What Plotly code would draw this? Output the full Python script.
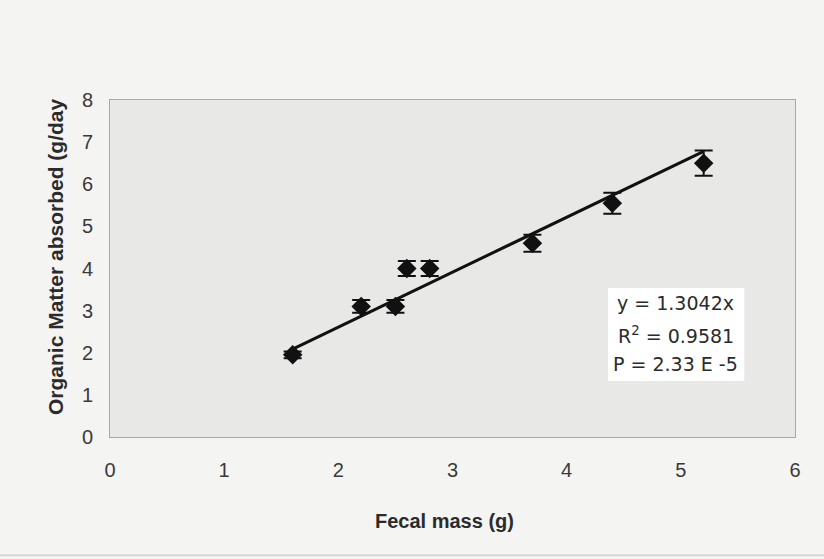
import plotly.graph_objects as go

fecal_mass = [1.6, 2.2, 2.5, 2.6, 2.8, 3.7, 4.4, 5.2]
om_absorbed = [1.95, 3.1, 3.1, 4.0, 4.0, 4.6, 5.55, 6.5]
om_error = [0.08, 0.15, 0.15, 0.18, 0.18, 0.2, 0.25, 0.3]
slope = 1.3042
fit_x = [1.6, 5.2]
x_ticks = [0, 1, 2, 3, 4, 5, 6]
y_ticks = [0, 1, 2, 3, 4, 5, 6, 7, 8]
stats_lines = ["y = 1.3042x", "R<sup>2</sup> = 0.9581", "P = 2.33 E -5"]

fit_y = [slope * v for v in fit_x]

FONT = "Liberation Sans, Arial, sans-serif"
TXT = "#2b2b2b"

fig = go.Figure()
fig.add_trace(go.Scatter(
    x=fit_x, y=fit_y, mode="lines",
    line=dict(color="#111111", width=3), showlegend=False, hoverinfo="skip"))
fig.add_trace(go.Scatter(
    x=fecal_mass, y=om_absorbed, mode="markers",
    marker=dict(symbol="diamond", size=15, color="#111111"),
    error_y=dict(type="data", array=om_error, visible=True,
                 color="#111111", thickness=2, width=9),
    showlegend=False))

# white box behind regression statistics
fig.add_shape(type="rect", xref="paper", yref="paper",
              x0=0.727, x1=0.926, y0=0.166, y1=0.442,
              fillcolor="#ffffff", line_width=0, layer="below")
for line_text, yp in zip(stats_lines, [0.398, 0.303, 0.218]):
    fig.add_annotation(
        x=0.826, y=yp, xref="paper", yref="paper", text=line_text,
        showarrow=False, align="center", xanchor="center", yanchor="middle",
        font=dict(family="DejaVu Sans, sans-serif", size=19, color=TXT))

# axis titles
fig.add_annotation(
    x=-0.0803, y=0.537, xref="paper", yref="paper",
    text="<b>Organic Matter absorbed (g/day</b>", textangle=-90,
    showarrow=False, xanchor="center", yanchor="middle",
    font=dict(family=FONT, size=21, color=TXT))
fig.add_annotation(
    x=0.489, y=-0.249, xref="paper", yref="paper",
    text="<b>Fecal mass (g)</b>",
    showarrow=False, xanchor="center", yanchor="middle",
    font=dict(family=FONT, size=20, color=TXT))

# faint edge line at bottom of scan
fig.add_shape(type="line", xref="paper", yref="paper",
              x0=-0.2, x1=1.1, y0=-0.351, y1=-0.351,
              line=dict(color="#d6d6d4", width=2), layer="below")

fig.update_layout(
    width=824, height=559,
    margin=dict(l=110, r=29, t=100, b=122),
    paper_bgcolor="#f4f4f2",
    plot_bgcolor="#e8e8e6",
    font=dict(family=FONT, color=TXT),
    xaxis=dict(
        range=[0, 6], tickvals=x_ticks, showgrid=False, zeroline=False,
        showline=True, linecolor="#a8a8a8", linewidth=1, mirror=True,
        ticks="", tickfont=dict(size=20, color="#3a3a3a"), ticklabelstandoff=15),
    yaxis=dict(
        range=[0, 8], tickvals=y_ticks, showgrid=False, zeroline=False,
        showline=True, linecolor="#a8a8a8", linewidth=1, mirror=True,
        ticks="", tickfont=dict(size=20, color="#3a3a3a"), ticklabelstandoff=12),
)

fig.write_html("out.html")
